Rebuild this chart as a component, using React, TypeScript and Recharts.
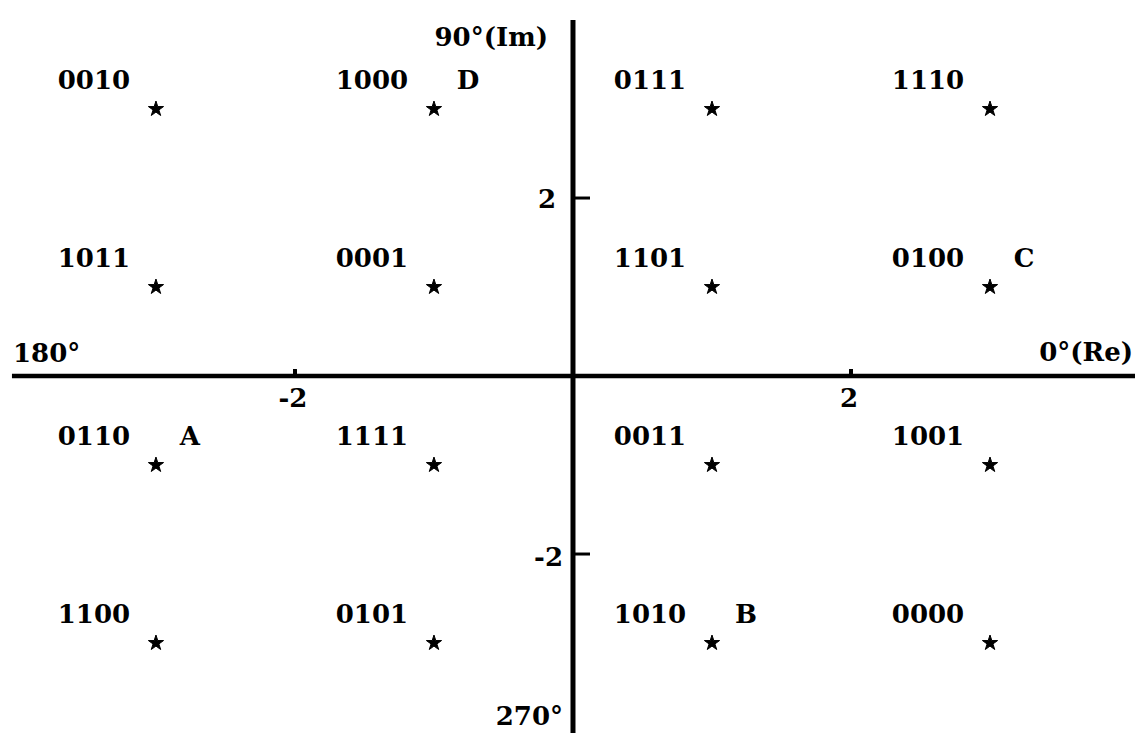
import React from "react";
import { ScatterChart, Scatter, XAxis, YAxis, ReferenceLine, Symbols } from "recharts";

// 16-QAM constellation: in-phase (Re) and quadrature (Im) levels, row by row from the top
const reLevels = [-3, -1, 1, 3, -3, -1, 1, 3, -3, -1, 1, 3, -3, -1, 1, 3];
const imLevels = [3, 3, 3, 3, 1, 1, 1, 1, -1, -1, -1, -1, -3, -3, -3, -3];
const bitCodes = [
  "0010", "1000", "0111", "1110",
  "1011", "0001", "1101", "0100",
  "0110", "1111", "0011", "1001",
  "1100", "0101", "1010", "0000",
];
const pointTags = ["", "D", "", "", "", "", "", "C", "A", "", "", "", "", "", "B", ""];

// axis tick values and their labels
const reTicks = [-2, 2];
const reTickLabels = ["-2", "2"];
const imTicks = [2, -2];
const imTickLabels = ["2", "-2"];

// phase names at the axis ends
const reAxisNames = ["180°", "0°(Re)"];
const imAxisNames = ["90°(Im)", "270°"];

// visible extent of the plane and of the drawn axis lines
const X_DOMAIN: [number, number] = [-4.122, 4.043];
const Y_DOMAIN: [number, number] = [-4.011, 4.225];
const RE_AXIS_START = -4.036;
const IM_AXIS_TOP = 4.0;

const W = 1135;
const H = 733;
const FONT = "'DejaVu Serif', 'Liberation Serif', serif";
const FONT_SIZE = 26;

const constellation = reLevels.map((x, i) => ({
  x,
  y: imLevels[i],
  code: bitCodes[i],
  tag: pointTags[i],
}));

const reTickData = reTicks.map((x, i) => ({ x, y: 0, text: reTickLabels[i] }));
const imTickData = imTicks.map((y, i) => ({ x: 0, y, text: imTickLabels[i] }));

const axisNameData = [
  { x: RE_AXIS_START, y: 0, text: reAxisNames[0], kind: "left" },
  { x: X_DOMAIN[1], y: 0, text: reAxisNames[1], kind: "right" },
  { x: 0, y: IM_AXIS_TOP, text: imAxisNames[0], kind: "top" },
  { x: 0, y: Y_DOMAIN[0], text: imAxisNames[1], kind: "bottom" },
];

const textStyle = {
  fontFamily: FONT,
  fontWeight: 700,
  fontSize: FONT_SIZE,
  fill: "#000",
};

function PointShape(props: any) {
  const { cx, cy, payload } = props;
  return (
    <g>
      <Symbols cx={cx} cy={cy} type="star" size={72} fill="#000" stroke="#000" strokeWidth={1} />
      <text x={cx - 62} y={cy - 20} textAnchor="middle" {...textStyle}>
        {payload.code}
      </text>
      {payload.tag ? (
        <text x={cx + 34} y={cy - 20} textAnchor="middle" {...textStyle}>
          {payload.tag}
        </text>
      ) : null}
    </g>
  );
}

function ReTickShape(props: any) {
  const { cx, cy, payload } = props;
  return (
    <g>
      <line x1={cx} y1={cy} x2={cx} y2={cy - 7} stroke="#000" strokeWidth={4} />
      <text x={cx - 2} y={cy + 31} textAnchor="middle" {...textStyle}>
        {payload.text}
      </text>
    </g>
  );
}

function ImTickShape(props: any) {
  const { cx, cy, payload } = props;
  const negative = payload.y < 0;
  return (
    <g>
      <line x1={cx} y1={cy} x2={cx + 17} y2={cy} stroke="#000" strokeWidth={3} />
      <text
        x={cx - (negative ? 10 : 17)}
        y={cy + (negative ? 12 : 10)}
        textAnchor="end"
        {...textStyle}
      >
        {payload.text}
      </text>
    </g>
  );
}

function AxisNameShape(props: any) {
  const { cx, cy, payload } = props;
  let x = cx;
  let y = cy;
  let anchor: "start" | "end" = "end";
  if (payload.kind === "left") {
    x = cx + 1;
    y = cy - 14;
    anchor = "start";
  } else if (payload.kind === "right") {
    x = cx - 2;
    y = cy - 15;
  } else if (payload.kind === "top") {
    x = cx - 25;
    y = cy + 26;
  } else {
    x = cx - 10;
    y = cy - 8;
  }
  return (
    <text x={x} y={y} textAnchor={anchor} {...textStyle}>
      {payload.text}
    </text>
  );
}

export default function App() {
  return (
    <div style={{ position: "absolute", left: 0, top: 0, width: W, height: H, background: "#fff" }}>
      <ScatterChart width={W} height={H} margin={{ top: 0, right: 0, bottom: 0, left: 0 }}>
        <XAxis type="number" dataKey="x" domain={X_DOMAIN} allowDataOverflow hide />
        <YAxis type="number" dataKey="y" domain={Y_DOMAIN} allowDataOverflow hide />
        <ReferenceLine
          segment={[
            { x: RE_AXIS_START, y: 0 },
            { x: X_DOMAIN[1], y: 0 },
          ]}
          stroke="#000"
          strokeWidth={4.5}
          ifOverflow="visible"
        />
        <ReferenceLine
          segment={[
            { x: 0, y: IM_AXIS_TOP },
            { x: 0, y: Y_DOMAIN[0] },
          ]}
          stroke="#000"
          strokeWidth={5}
          ifOverflow="visible"
        />
        <Scatter data={reTickData} shape={ReTickShape} isAnimationActive={false} />
        <Scatter data={imTickData} shape={ImTickShape} isAnimationActive={false} />
        <Scatter data={axisNameData} shape={AxisNameShape} isAnimationActive={false} />
        <Scatter data={constellation} shape={PointShape} isAnimationActive={false} />
      </ScatterChart>
    </div>
  );
}
